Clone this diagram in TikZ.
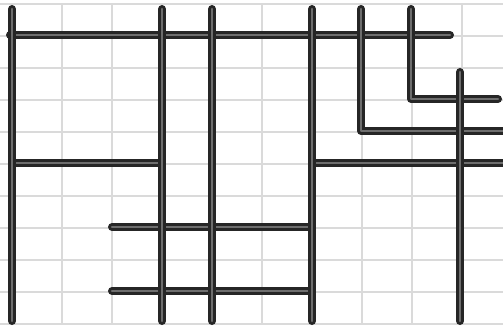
\documentclass[tikz,border=0pt]{standalone}
\definecolor{gridgray}{HTML}{DADADA}
\definecolor{bardark}{HTML}{262626}
\definecolor{barmid}{HTML}{6E6E6E}
\tikzset{
  gridline/.style={draw=gridgray, line width=1.8pt},
  tube/.style={draw=bardark, line width=8pt, line cap=round, line join=round,
    postaction={draw=barmid, line width=2.6pt, line cap=round, line join=round}},
}
\begin{document}
\begin{tikzpicture}[x=1pt,y=-1pt]
\useasboundingbox[fill=white] (0,0) rectangle (503,329);
% grid
\foreach \x in {12,62,...,462} \draw[gridline] (\x,4) -- (\x,325);
\foreach \y in {4,36,...,324} \draw[gridline] (0,\y) -- (503,\y);
% horizontal bars
\draw[tube] (10,35) -- (450,35);
\draw[tube] (12,163) -- (158,163);
\draw[tube] (312,163) -- (510,163);
\draw[tube] (112,227) -- (308,227);
\draw[tube] (112,291) -- (308,291);
% L-shaped bars
\draw[tube] (361,9) -- (361,131) -- (510,131);
\draw[tube] (411,9) -- (411,99) -- (498,99);
% vertical bars
\draw[tube] (12,9) -- (12,321);
\draw[tube] (162,9) -- (162,321);
\draw[tube] (212,9) -- (212,321);
\draw[tube] (312,9) -- (312,321);
\draw[tube] (460,72) -- (460,321);
\end{tikzpicture}
\end{document}
